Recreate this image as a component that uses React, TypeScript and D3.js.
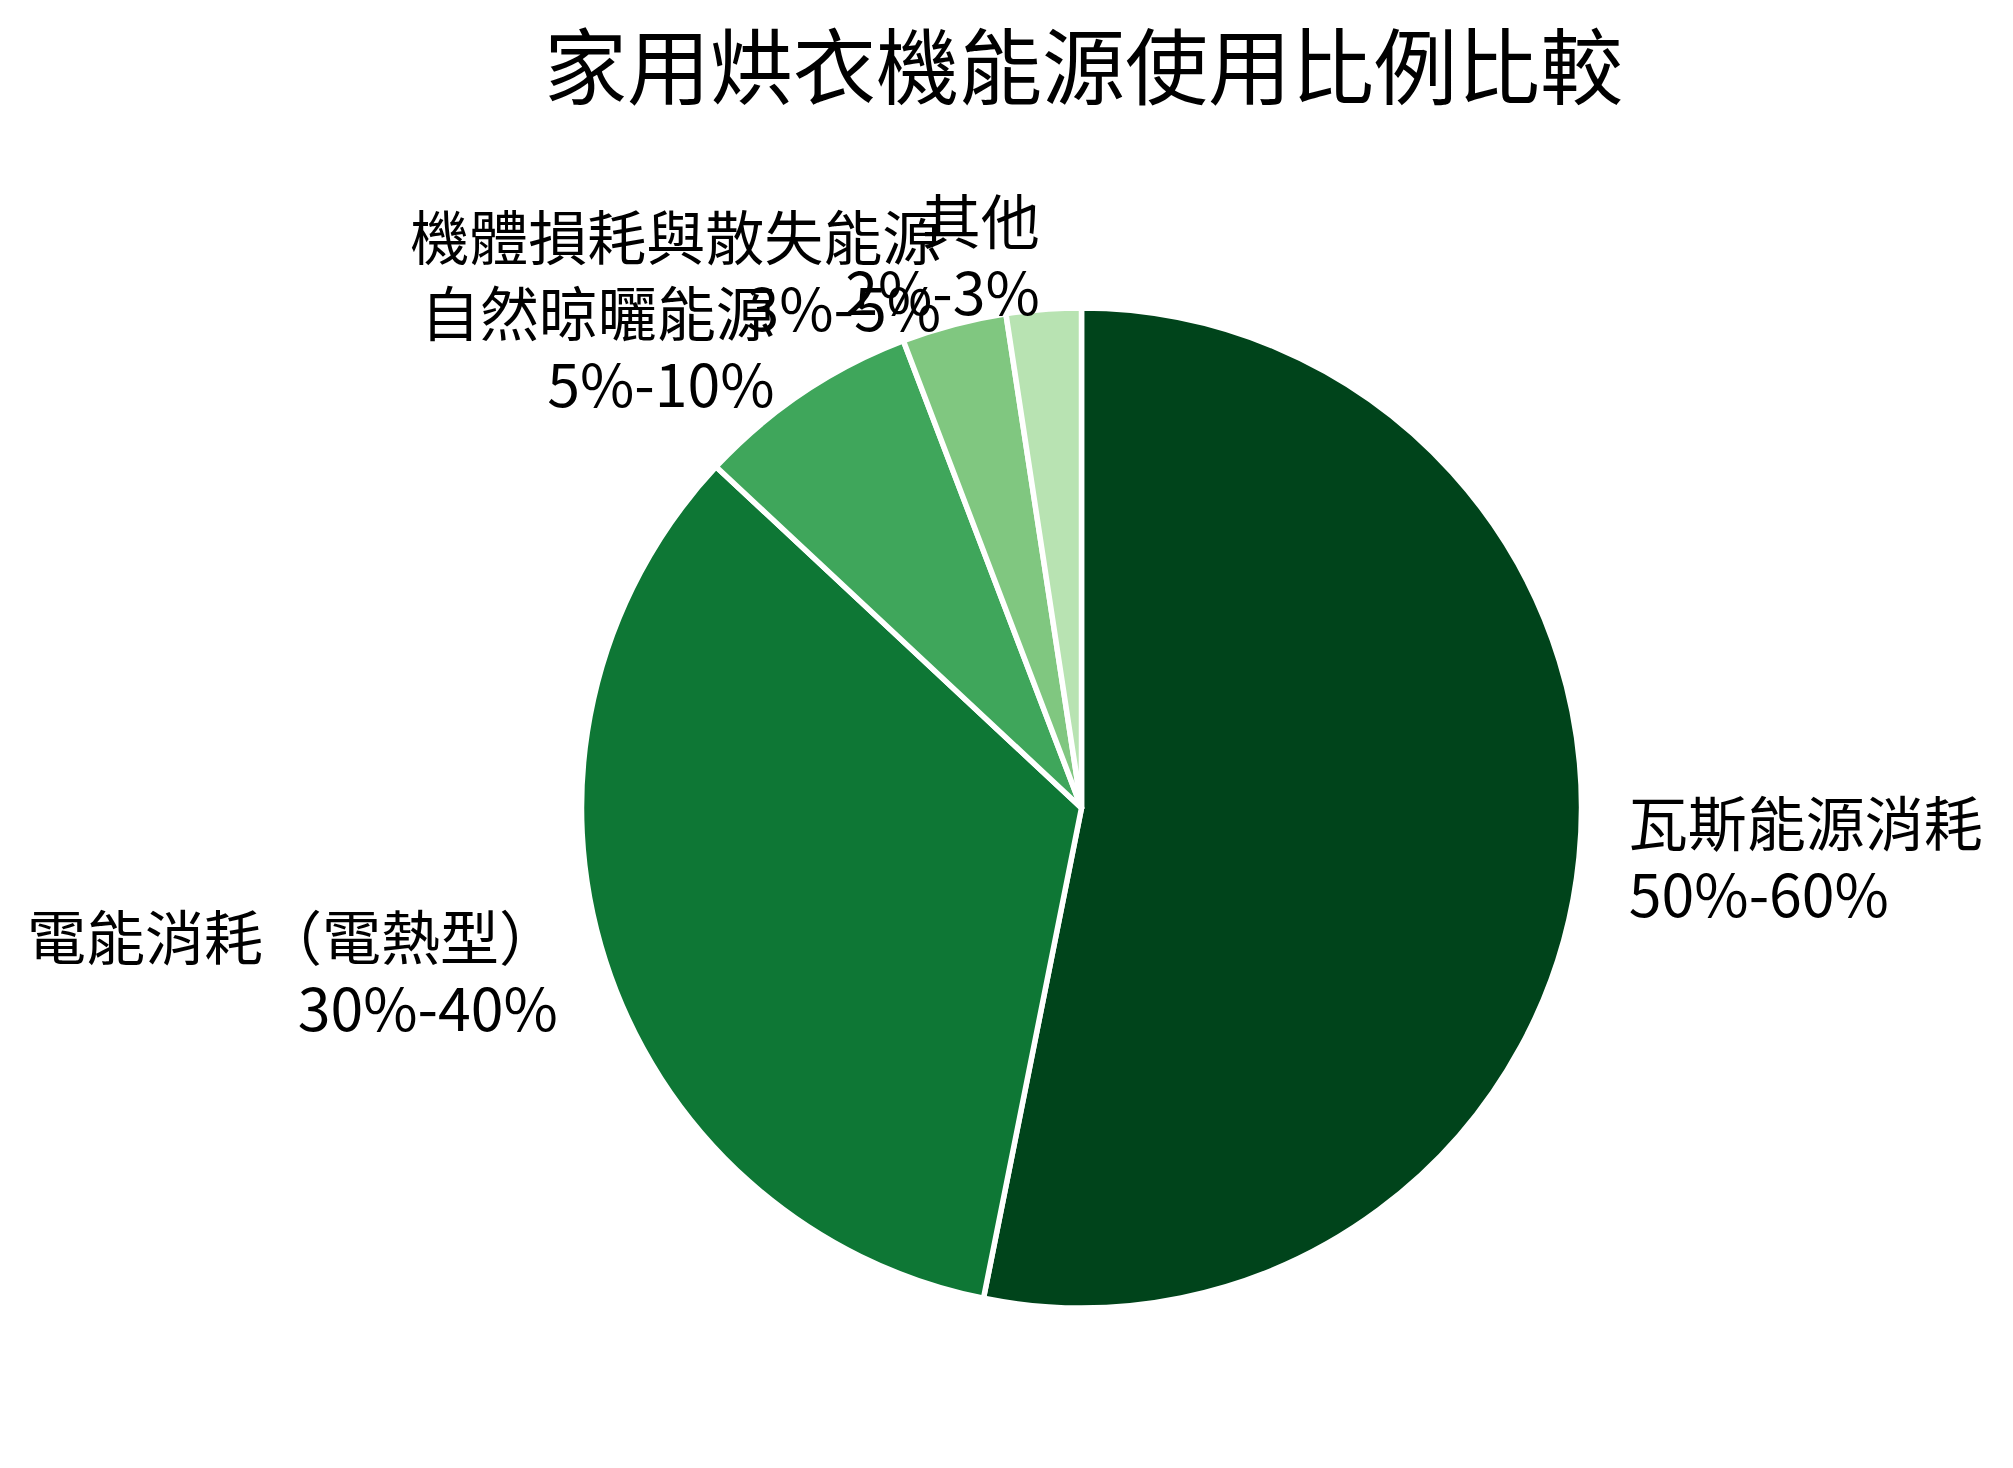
import { useEffect, useRef } from "react";
import * as d3 from "d3";

// Données du graphique
const categories = [
  "瓦斯能源消耗",
  "電能消耗（電熱型）",
  "自然晾曬能源",
  "機體損耗與散失能源",
  "其他",
];
const ranges = ["50%-60%", "30%-40%", "5%-10%", "3%-5%", "2%-3%"];
const values = [55, 35, 7.5, 3.5, 2.5];
const colors = ["#00441b", "#0e7735", "#3fa65b", "#80c780", "#b8e3b2"];

const title = "家用烘衣機能源使用比例比較";

const WIDTH = 2013;
const HEIGHT = 1468;

export default function App() {
  const svgRef = useRef<SVGSVGElement>(null);

  useEffect(() => {
    if (!svgRef.current) return;
    const svg = d3.select(svgRef.current);
    svg.selectAll("*").remove();

    const cx = 1081.5;
    const cy = 808;
    const radius = 500;
    const fontFamily = "'Noto Sans CJK TC', 'Noto Sans CJK SC', sans-serif";

    svg.attr("width", WIDTH).attr("height", HEIGHT);

    svg
      .append("rect")
      .attr("width", WIDTH)
      .attr("height", HEIGHT)
      .attr("fill", "#ffffff");

    // Titre
    svg
      .append("text")
      .attr("x", cx + 2)
      .attr("y", 98)
      .attr("text-anchor", "middle")
      .style("font-family", fontFamily)
      .style("font-size", "83px")
      .style("fill", "#000")
      .text(title);

    const entries = categories.map((c, i) => ({
      name: c,
      range: ranges[i],
      value: values[i],
      color: colors[i],
    }));

    // Camembert dans le sens horaire depuis midi
    const pie = d3
      .pie<(typeof entries)[number]>()
      .value((d) => d.value)
      .sort(null)
      .startAngle(0)
      .endAngle(2 * Math.PI);

    const arc = d3
      .arc<d3.PieArcDatum<(typeof entries)[number]>>()
      .innerRadius(0)
      .outerRadius(radius);

    const g = svg.append("g").attr("transform", `translate(${cx},${cy})`);

    const arcs = pie(entries);

    g.selectAll(".slice")
      .data(arcs)
      .enter()
      .append("path")
      .attr("class", "slice")
      .attr("d", arc)
      .attr("fill", (d) => d.data.color)
      .attr("stroke", "#ffffff")
      .attr("stroke-width", 5.5)
      .attr("stroke-linejoin", "round");

    // Étiquettes à 1.1 × rayon
    const labelR = radius * 1.1;
    const lineGap = 71;

    arcs.forEach((d) => {
      const mid = (d.startAngle + d.endAngle) / 2;
      const x = labelR * Math.sin(mid);
      const y = -labelR * Math.cos(mid);
      const anchor = x >= 0 ? "start" : "end";
      const text = g
        .append("text")
        .attr("text-anchor", anchor)
        .style("font-family", fontFamily)
        .style("font-size", "59px")
        .style("fill", "#000");
      text
        .append("tspan")
        .attr("x", x)
        .attr("y", y - 16)
        .text(d.data.name);
      text
        .append("tspan")
        .attr("x", x)
        .attr("y", y - 16 + lineGap)
        .text(d.data.range);
    });
  }, []);

  return (
    <div style={{ position: "absolute", left: 0, top: 0 }}>
      <svg ref={svgRef} style={{ display: "block" }} />
    </div>
  );
}
